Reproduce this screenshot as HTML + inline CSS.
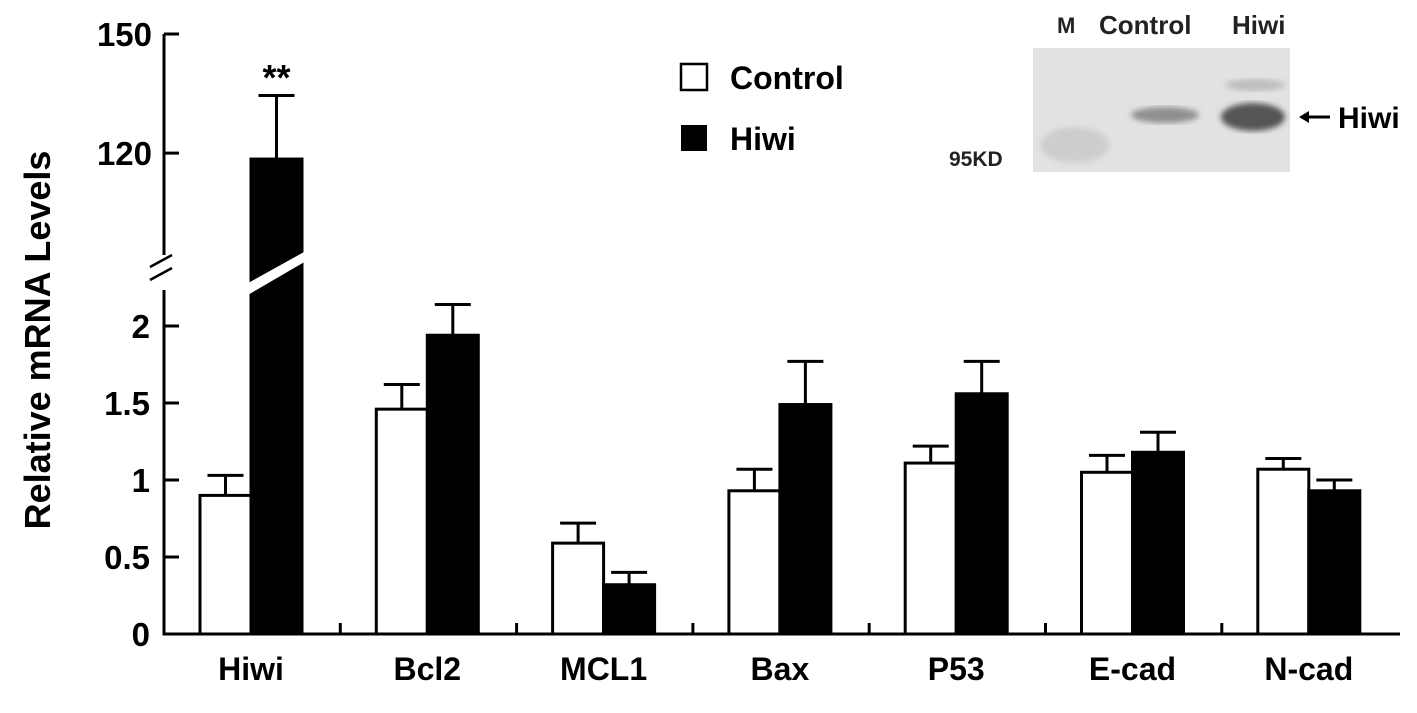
<!DOCTYPE html>
<html><head><meta charset="utf-8"><style>
html,body{margin:0;padding:0;background:#fff;}
svg{display:block;font-family:"Liberation Sans",Arial,sans-serif;font-weight:bold;}
</style></head><body>
<svg id="chart" width="1417" height="713" viewBox="0 0 1417 713">
<defs>
<filter id="blur"><feGaussianBlur stdDeviation="3"/></filter>
</defs>
<g id="marks"></g>
<g id="axes" stroke="#000" stroke-width="3" fill="none"></g>
<g id="labels"></g>
<!-- legend -->
<rect x="681" y="64" width="26" height="26" fill="#fff" stroke="#000" stroke-width="2.5"/>
<text x="730" y="89" font-size="32">Control</text>
<rect x="681" y="125" width="26" height="26" fill="#000"/>
<text x="730" y="150" font-size="32">Hiwi</text>
<!-- western blot inset -->
<g>
<rect x="1033" y="48" width="257" height="124" fill="#e2e2e2"/>
<ellipse cx="1075" cy="145" rx="34" ry="18" fill="#cdcdcd" filter="url(#blur)"/>
<ellipse cx="1165" cy="115" rx="34" ry="8" fill="#8f8f8f" filter="url(#blur)"/>
<ellipse cx="1255" cy="85" rx="30" ry="6" fill="#bdbdbd" filter="url(#blur)"/>
<ellipse cx="1253" cy="117" rx="32" ry="14" fill="#555" filter="url(#blur)"/>
<text x="1057" y="33" font-size="22" fill="#222">M</text>
<text x="1099" y="34" font-size="26" fill="#222">Control</text>
<text x="1232" y="34" font-size="26" fill="#222">Hiwi</text>
<text x="949" y="166" font-size="21" fill="#222">95KD</text>
<line x1="1303" y1="117" x2="1330" y2="117" stroke="#000" stroke-width="3"/>
<polygon points="1299,117 1309,111 1309,123" fill="#000"/>
<text x="1338" y="128" font-size="30">Hiwi</text>
</g>
<text transform="translate(50,340) rotate(-90)" text-anchor="middle" font-size="36">Relative mRNA Levels</text>
</svg>
<script>
const categories=["Hiwi","Bcl2","MCL1","Bax","P53","E-cad","N-cad"];
const controlValues=[0.9,1.46,0.59,0.93,1.11,1.05,1.07];
const controlErrors=[0.13,0.16,0.13,0.14,0.11,0.11,0.07];
const hiwiValues=[118.5,1.94,0.32,1.49,1.56,1.18,0.93];
const hiwiErrors=[16,0.2,0.08,0.28,0.21,0.13,0.07];
const lowerTicks=[0,0.5,1,1.5,2];
const upperTicks=[120,150];

const NS="http://www.w3.org/2000/svg";
const X0=164, groupW=176.3, firstBar=200, barW=51;
function yLow(v){return 634-v*154;}
function yUp(v){return 34+(150-v)*3.97;}
function y(v){return v<=2.2?yLow(v):yUp(v);}
function mk(tag,attrs,parent){const e=document.createElementNS(NS,tag);for(const k in attrs)e.setAttribute(k,attrs[k]);parent.appendChild(e);return e;}
const marks=document.getElementById('marks'),axes=document.getElementById('axes'),labels=document.getElementById('labels');

categories.forEach((c,i)=>{
  const gx=firstBar+i*groupW;
  const series=[[controlValues[i],controlErrors[i],'#fff','control'],[hiwiValues[i],hiwiErrors[i],'#000','hiwi']];
  series.forEach((s,j)=>{
    const x=gx+j*barW, top=y(s[0]);
    const r=mk('rect',{x:x,y:top,width:barW,height:634-top,fill:s[2],stroke:'#000','stroke-width':3},marks);
    
    
    const et=y(s[0]+s[1]), cx=x+barW/2;
    const e=mk('path',{d:`M${cx},${top}V${et}M${cx-18},${et}H${cx+18}`,stroke:'#000','stroke-width':3,fill:'none'},marks);
    
    
  });
  const t=mk('text',{x:gx+barW,y:680,'text-anchor':'middle','font-size':32},labels);
  t.textContent=c;
  
  
  if(i>0){mk('line',{x1:gx-36,y1:623,x2:gx-36,y2:634},axes);}
});
const bx=firstBar+barW;
mk('polygon',{points:`${bx-10},${287} ${bx+62},${247} ${bx+62},${257} ${bx-10},${299}`,fill:'#fff'},marks);
const star=mk('text',{x:bx+barW/2,y:90,'text-anchor':'middle','font-size':36},labels);
star.textContent='**';


mk('path',{d:`M${X0},${yUp(150)}H${X0+15}M${X0},${yUp(150)}V255`},axes);
mk('path',{d:`M${X0},290V634H1400`},axes);
mk('path',{d:`M150,267L172,255M150,280L172,268`,'stroke-width':2.5},axes);
lowerTicks.forEach(v=>{
  if(v>0)mk('line',{x1:X0,y1:yLow(v),x2:X0+15,y2:yLow(v)},axes);
  const t=mk('text',{x:150,y:yLow(v)+12,'text-anchor':'end','font-size':33},labels);
  t.textContent=String(v);
  
  
});
upperTicks.forEach(v=>{
  mk('line',{x1:X0,y1:yUp(v),x2:X0+15,y2:yUp(v)},axes);
  const t=mk('text',{x:152,y:yUp(v)+12,'text-anchor':'end','font-size':33},labels);
  t.textContent=String(v);
  
  
});
</script>
</body></html>
